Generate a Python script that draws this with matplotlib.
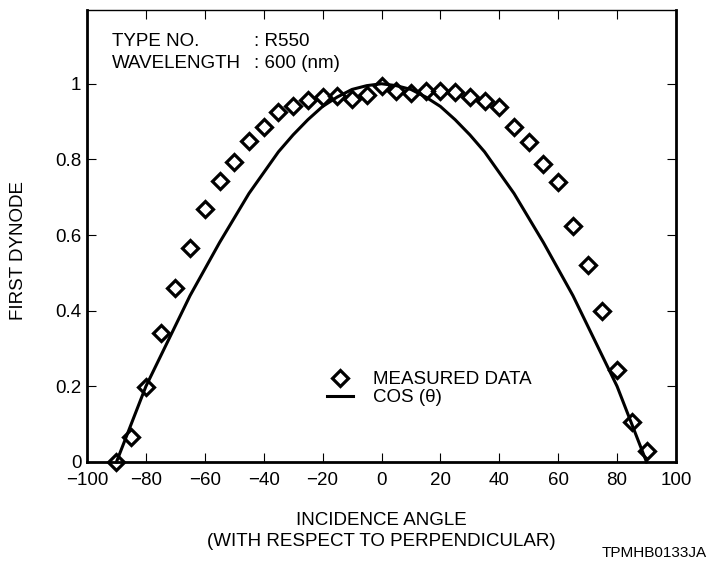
import numpy as np
import matplotlib
matplotlib.use("Agg")
import matplotlib.pyplot as plt
from matplotlib.lines import Line2D

plt.rcParams['font.family'] = ['Liberation Sans', 'DejaVu Sans']

# ---- data ----
angles = list(range(-90, 95, 5))
measured = [0.0, 0.067, 0.197, 0.342, 0.46, 0.566, 0.668, 0.742, 0.793, 0.848,
            0.886, 0.925, 0.941, 0.956, 0.965, 0.967, 0.961, 0.969, 0.995,
            0.982, 0.975, 0.98, 0.98, 0.977, 0.966, 0.955, 0.938, 0.886, 0.846,
            0.788, 0.739, 0.625, 0.521, 0.398, 0.244, 0.105, 0.029]
cos_curve = [0.0, 0.10, 0.20, 0.28, 0.36, 0.44, 0.51, 0.58, 0.645, 0.71,
             0.765, 0.82, 0.865, 0.905, 0.94, 0.965, 0.985, 0.995, 1.0,
             0.995, 0.985, 0.965, 0.94, 0.905, 0.865, 0.82, 0.765, 0.71, 0.645,
             0.58, 0.51, 0.44, 0.36, 0.28, 0.20, 0.10, 0.0]
xticks = [-100, -80, -60, -40, -20, 0, 20, 40, 60, 80, 100]
yticks = [0, 0.2, 0.4, 0.6, 0.8, 1.0]
ytick_labels = ["0", "0.2", "0.4", "0.6", "0.8", "1"]

FS = 13.5

fig = plt.figure(figsize=(7.1, 5.67), dpi=100)
ax = fig.add_axes([87/710, 1 - 462/567, (676-87)/710, (462-10)/567])

ax.plot(angles, cos_curve, color='black', lw=2.2, clip_on=False, zorder=2)
ax.plot(angles, measured, linestyle='none', marker='D', ms=8, mew=2.3,
        mfc='none', mec='black', clip_on=False, zorder=3)

ax.set_xlim(-100, 100)
ax.set_ylim(0, 1.195)
ax.set_xticks(xticks)
ax.set_yticks(yticks)
ax.set_yticklabels(ytick_labels)
ax.tick_params(direction='in', length=6.5, width=0.8, labelsize=FS,
               top=True, right=True, pad=4, colors='black')
ax.tick_params(axis='x', pad=7.5)
for s in ['left', 'bottom', 'right']:
    ax.spines[s].set_linewidth(2.0)
ax.spines['top'].set_linewidth(1.0)

ax.set_xlabel("INCIDENCE ANGLE\n(WITH RESPECT TO PERPENDICULAR)", fontsize=FS,
              labelpad=16, linespacing=1.3)
fig.text(19/710, 1 - 251/567, "FIRST DYNODE", rotation=90, fontsize=FS,
         ha='center', va='center')

txt_kw = dict(fontsize=FS, va='baseline', ha='left')
fig.text(112/710, 1 - 46/567, "TYPE NO.", **txt_kw)
fig.text(254/710, 1 - 46/567, ": R550", **txt_kw)
fig.text(112/710, 1 - 67.7/567, "WAVELENGTH", **txt_kw)
fig.text(254/710, 1 - 67.7/567, ": 600 (nm)", **txt_kw)

handles = [Line2D([], [], linestyle='none', marker='D', ms=8, mew=2.3,
                  mfc='none', mec='black'),
           Line2D([], [], color='black', lw=2.2)]
ax.legend(handles, ["MEASURED DATA", "COS (θ)"], loc='upper left',
          bbox_to_anchor=((327-87)/589, (462-371)/452), frameon=False,
          fontsize=FS, handlelength=1.4, handletextpad=1.05,
          labelspacing=0.06, borderpad=0, borderaxespad=0)

fig.text(707/710, 1 - 553/567, "TPMHB0133JA", fontsize=11, ha='right', va='center')

fig.savefig("out.png", dpi=100)
